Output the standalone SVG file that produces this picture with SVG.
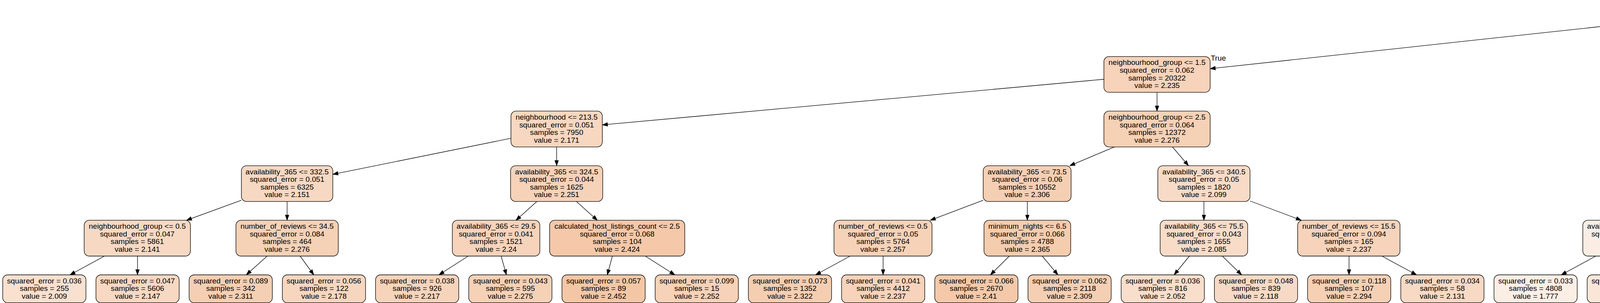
<svg xmlns="http://www.w3.org/2000/svg" width="7602" height="775" viewBox="0 0 7602 775">
<defs>
<style>
.node rect{stroke:#000;stroke-width:1.33}
text{font-family:"Liberation Sans",Arial,Helvetica,sans-serif;font-size:19.25px;text-anchor:middle;fill:#000}
.edges line{stroke:#000;stroke-width:1.33;marker-end:url(#ah)}
</style>
<marker id="ah" markerUnits="userSpaceOnUse" markerWidth="14" markerHeight="10" viewBox="0 0 14 10" refX="13.3" refY="5" orient="auto" overflow="visible"><path d="M0,0.3 L13.3,5 L0,9.7 z" fill="#000" stroke="#000" stroke-width="1"/></marker>
</defs>
<g class="edges" id="edges">
<line x1="4149" y1="62.35" x2="3098" y2="175.7"/>
<line x1="4363" y1="87" x2="4533.2" y2="144.6"/>
<line x1="2826" y1="202.75" x2="1542" y2="319.4"/>
<line x1="2962" y1="236.2" x2="2962" y2="284.2"/>
<line x1="4668.5" y1="236.2" x2="4668.5" y2="284.2"/>
<line x1="4804.5" y1="202.85" x2="6063.5" y2="317.55"/>
<line x1="1308" y1="353.7" x2="852" y2="445.9"/>
<line x1="1425" y1="375.8" x2="1425" y2="423.8"/>
<line x1="2852.9" y1="375.8" x2="2738.6" y2="423.8"/>
<line x1="3001.4" y1="375.8" x2="3042.6" y2="423.8"/>
<line x1="4628.6" y1="375.8" x2="4586.9" y2="423.8"/>
<line x1="4769" y1="372.45" x2="4890.6" y2="423.8"/>
<line x1="6199.5" y1="375.8" x2="6199.5" y2="423.8"/>
<line x1="6335.5" y1="357.3" x2="6782" y2="446.4"/>
<line x1="618" y1="512.2" x2="477.3" y2="563.4"/>
<line x1="735" y1="515.4" x2="735" y2="563.4"/>
<line x1="1374.2" y1="515.4" x2="1320.8" y2="563.4"/>
<line x1="1475.8" y1="515.4" x2="1529.2" y2="563.4"/>
<line x1="2517" y1="512.2" x2="2381.5" y2="563.4"/>
<line x1="2630" y1="515.4" x2="2630" y2="563.4"/>
<line x1="3082" y1="515.4" x2="3082" y2="563.4"/>
<line x1="3200" y1="514" x2="3331.3" y2="563.4"/>
<line x1="4436" y1="510.65" x2="4287" y2="565.8"/>
<line x1="4547" y1="515.4" x2="4547" y2="563.4"/>
<line x1="4999" y1="515.4" x2="4999" y2="563.4"/>
<line x1="5118.4" y1="515.4" x2="5252" y2="566.6"/>
<line x1="6157.7" y1="515.4" x2="6113.8" y2="563.4"/>
<line x1="6240.3" y1="515.4" x2="6283.2" y2="563.4"/>
<line x1="6898" y1="515.4" x2="6898" y2="563.4"/>
<line x1="7014" y1="512.8" x2="7149.7" y2="563.4"/>
<line x1="267.4" y1="655" x2="179.2" y2="703"/>
<line x1="352" y1="655" x2="352" y2="703"/>
<line x1="684" y1="655" x2="630.5" y2="703"/>
<line x1="768.3" y1="655" x2="803.3" y2="703"/>
<line x1="1198.6" y1="655" x2="1123.7" y2="703"/>
<line x1="1282.9" y1="655" x2="1296.4" y2="703"/>
<line x1="1567.7" y1="655" x2="1554.7" y2="703"/>
<line x1="1652" y1="655" x2="1727.5" y2="703"/>
<line x1="2176.3" y1="655" x2="2088" y2="703"/>
<line x1="2260.7" y1="655" x2="2260.7" y2="703"/>
<line x1="2583.9" y1="655" x2="2535.5" y2="703"/>
<line x1="2668.2" y1="655" x2="2708.3" y2="703"/>
<line x1="3044.8" y1="655" x2="3005.8" y2="703"/>
<line x1="3129.1" y1="655" x2="3178.5" y2="703"/>
<line x1="3453.5" y1="655" x2="3453.5" y2="703"/>
<line x1="3537.7" y1="655" x2="3626.4" y2="703"/>
<line x1="4085.2" y1="655" x2="3996.9" y2="703"/>
<line x1="4169.6" y1="655" x2="4169.6" y2="703"/>
<line x1="4498" y1="655" x2="4446.6" y2="703"/>
<line x1="4582.3" y1="655" x2="4619.3" y2="703"/>
<line x1="4958.9" y1="655" x2="4916.8" y2="703"/>
<line x1="5043.2" y1="655" x2="5089.6" y2="703"/>
<line x1="5363" y1="655" x2="5363" y2="703"/>
<line x1="5447.2" y1="655" x2="5535.5" y2="703"/>
<line x1="5990" y1="655" x2="5903.9" y2="703"/>
<line x1="6074.3" y1="655" x2="6076.7" y2="703"/>
<line x1="6321.6" y1="655" x2="6319" y2="703"/>
<line x1="6405.9" y1="655" x2="6491.7" y2="703"/>
<line x1="6861.3" y1="655" x2="6822.9" y2="703"/>
<line x1="6945.7" y1="655" x2="6995.7" y2="703"/>
<line x1="7272" y1="655" x2="7272" y2="703"/>
<line x1="7353.3" y1="655" x2="7437.9" y2="703"/>
<text x="3119" y="155">True</text>
<text x="4517" y="120">False</text>
</g>
<g id="n0" class="node"><rect x="4149" y="5" width="214" height="91.6" rx="13" fill="#f8decb"/><text x="4256" y="26.7">room_type &lt;= 0.5</text><text x="4256" y="46.3">squared_error = 0.093</text><text x="4256" y="65.9">samples = 39107</text><text x="4256" y="85.5">value = 2.054</text></g>
<g id="n1" class="node"><rect x="2826" y="144.6" width="272" height="91.6" rx="13" fill="#f6d3ba"/><text x="2962" y="166.3">neighbourhood_group &lt;= 1.5</text><text x="2962" y="185.9">squared_error = 0.062</text><text x="2962" y="205.5">samples = 20322</text><text x="2962" y="225.1">value = 2.235</text></g>
<g id="n2" class="node"><rect x="4532.5" y="144.6" width="272" height="91.6" rx="13" fill="#fae9dc"/><text x="4668.5" y="166.3">neighbourhood_group &lt;= 1.5</text><text x="4668.5" y="185.9">squared_error = 0.053</text><text x="4668.5" y="205.5">samples = 18785</text><text x="4668.5" y="225.1">value = 1.858</text></g>
<g id="n3" class="node"><rect x="1308" y="284.2" width="234" height="91.6" rx="13" fill="#f7d7c0"/><text x="1425" y="305.9">neighbourhood &lt;= 213.5</text><text x="1425" y="325.5">squared_error = 0.051</text><text x="1425" y="345.1">samples = 7950</text><text x="1425" y="364.7">value = 2.171</text></g>
<g id="n4" class="node"><rect x="2826" y="284.2" width="272" height="91.6" rx="13" fill="#f5d1b6"/><text x="2962" y="305.9">neighbourhood_group &lt;= 2.5</text><text x="2962" y="325.5">squared_error = 0.064</text><text x="2962" y="345.1">samples = 12372</text><text x="2962" y="364.7">value = 2.276</text></g>
<g id="n5" class="node"><rect x="4568" y="284.2" width="201" height="91.6" rx="13" fill="#fbece1"/><text x="4668.5" y="305.9">room_type &lt;= 1.5</text><text x="4668.5" y="325.5">squared_error = 0.04</text><text x="4668.5" y="345.1">samples = 8976</text><text x="4668.5" y="364.7">value = 1.806</text></g>
<g id="n6" class="node"><rect x="6063.5" y="284.2" width="272" height="91.6" rx="13" fill="#fae6d8"/><text x="6199.5" y="305.9">neighbourhood_group &lt;= 2.5</text><text x="6199.5" y="325.5">squared_error = 0.059</text><text x="6199.5" y="345.1">samples = 9809</text><text x="6199.5" y="364.7">value = 1.907</text></g>
<g id="n7" class="node"><rect x="618" y="423.8" width="234" height="91.6" rx="13" fill="#f7d8c2"/><text x="735" y="445.5">availability_365 &lt;= 332.5</text><text x="735" y="465.1">squared_error = 0.051</text><text x="735" y="484.7">samples = 6325</text><text x="735" y="504.3">value = 2.151</text></g>
<g id="n8" class="node"><rect x="1307" y="423.8" width="236" height="91.6" rx="13" fill="#f6d2b9"/><text x="1425" y="445.5">availability_365 &lt;= 324.5</text><text x="1425" y="465.1">squared_error = 0.044</text><text x="1425" y="484.7">samples = 1625</text><text x="1425" y="504.3">value = 2.251</text></g>
<g id="n9" class="node"><rect x="2517" y="423.8" width="225" height="91.6" rx="13" fill="#f5cfb4"/><text x="2629.5" y="445.5">availability_365 &lt;= 73.5</text><text x="2629.5" y="465.1">squared_error = 0.06</text><text x="2629.5" y="484.7">samples = 10552</text><text x="2629.5" y="504.3">value = 2.306</text></g>
<g id="n10" class="node"><rect x="2964" y="423.8" width="236" height="91.6" rx="13" fill="#f8dbc6"/><text x="3082" y="445.5">availability_365 &lt;= 340.5</text><text x="3082" y="465.1">squared_error = 0.05</text><text x="3082" y="484.7">samples = 1820</text><text x="3082" y="504.3">value = 2.099</text></g>
<g id="n11" class="node"><rect x="4436" y="423.8" width="222" height="91.6" rx="13" fill="#fbece0"/><text x="4547" y="445.5">neighbourhood &lt;= 79.0</text><text x="4547" y="465.1">squared_error = 0.038</text><text x="4547" y="484.7">samples = 8588</text><text x="4547" y="504.3">value = 1.814</text></g>
<g id="n12" class="node"><rect x="4826" y="423.8" width="346" height="91.6" rx="13" fill="#fdf7f2"/><text x="4999" y="445.5">calculated_host_listings_count &lt;= 2.5</text><text x="4999" y="465.1">squared_error = 0.057</text><text x="4999" y="484.7">samples = 388</text><text x="4999" y="504.3">value = 1.62</text></g>
<g id="n13" class="node"><rect x="6081.5" y="423.8" width="236" height="91.6" rx="13" fill="#f9e3d3"/><text x="6199.5" y="445.5">availability_365 &lt;= 348.5</text><text x="6199.5" y="465.1">squared_error = 0.058</text><text x="6199.5" y="484.7">samples = 6758</text><text x="6199.5" y="504.3">value = 1.965</text></g>
<g id="n14" class="node"><rect x="6782" y="423.8" width="232" height="91.6" rx="13" fill="#fbeee4"/><text x="6898" y="445.5">minimum_nights &lt;= 95.0</text><text x="6898" y="465.1">squared_error = 0.039</text><text x="6898" y="484.7">samples = 3051</text><text x="6898" y="504.3">value = 1.778</text></g>
<g id="n15" class="node"><rect x="215.5" y="563.4" width="272" height="91.6" rx="13" fill="#f7d9c3"/><text x="351.5" y="585.1">neighbourhood_group &lt;= 0.5</text><text x="351.5" y="604.7">squared_error = 0.047</text><text x="351.5" y="624.3">samples = 5861</text><text x="351.5" y="643.9">value = 2.141</text></g>
<g id="n16" class="node"><rect x="604" y="563.4" width="262" height="91.6" rx="13" fill="#f5d1b6"/><text x="735" y="585.1">number_of_reviews &lt;= 34.5</text><text x="735" y="604.7">squared_error = 0.084</text><text x="735" y="624.3">samples = 464</text><text x="735" y="643.9">value = 2.276</text></g>
<g id="n17" class="node"><rect x="1158" y="563.4" width="224" height="91.6" rx="13" fill="#f6d3ba"/><text x="1270" y="585.1">availability_365 &lt;= 29.5</text><text x="1270" y="604.7">squared_error = 0.041</text><text x="1270" y="624.3">samples = 1521</text><text x="1270" y="643.9">value = 2.24</text></g>
<g id="n18" class="node"><rect x="1407" y="563.4" width="346" height="91.6" rx="13" fill="#f4c8a9"/><text x="1580" y="585.1">calculated_host_listings_count &lt;= 2.5</text><text x="1580" y="604.7">squared_error = 0.068</text><text x="1580" y="624.3">samples = 104</text><text x="1580" y="643.9">value = 2.424</text></g>
<g id="n19" class="node"><rect x="2135" y="563.4" width="251" height="91.6" rx="13" fill="#f6d2b8"/><text x="2260.5" y="585.1">number_of_reviews &lt;= 0.5</text><text x="2260.5" y="604.7">squared_error = 0.05</text><text x="2260.5" y="624.3">samples = 5764</text><text x="2260.5" y="643.9">value = 2.257</text></g>
<g id="n20" class="node"><rect x="2519" y="563.4" width="222" height="91.6" rx="13" fill="#f4ccae"/><text x="2630" y="585.1">minimum_nights &lt;= 6.5</text><text x="2630" y="604.7">squared_error = 0.066</text><text x="2630" y="624.3">samples = 4788</text><text x="2630" y="643.9">value = 2.365</text></g>
<g id="n21" class="node"><rect x="2970" y="563.4" width="224" height="91.6" rx="13" fill="#f8dcc8"/><text x="3082" y="585.1">availability_365 &lt;= 75.5</text><text x="3082" y="604.7">squared_error = 0.043</text><text x="3082" y="624.3">samples = 1655</text><text x="3082" y="643.9">value = 2.085</text></g>
<g id="n22" class="node"><rect x="3322" y="563.4" width="262" height="91.6" rx="13" fill="#f6d3ba"/><text x="3453" y="585.1">number_of_reviews &lt;= 15.5</text><text x="3453" y="604.7">squared_error = 0.094</text><text x="3453" y="624.3">samples = 165</text><text x="3453" y="643.9">value = 2.237</text></g>
<g id="n23" class="node"><rect x="4052" y="563.4" width="235" height="91.6" rx="13" fill="#fbede3"/><text x="4169.5" y="585.1">availability_365 &lt;= 361.5</text><text x="4169.5" y="604.7">squared_error = 0.036</text><text x="4169.5" y="624.3">samples = 5090</text><text x="4169.5" y="643.9">value = 1.784</text></g>
<g id="n24" class="node"><rect x="4411" y="563.4" width="272" height="91.6" rx="13" fill="#fae9dc"/><text x="4547" y="585.1">neighbourhood_group &lt;= 0.5</text><text x="4547" y="604.7">squared_error = 0.038</text><text x="4547" y="624.3">samples = 3498</text><text x="4547" y="643.9">value = 1.858</text></g>
<g id="n25" class="node"><rect x="4882" y="563.4" width="234" height="91.6" rx="13" fill="#fcf0e7"/><text x="4999" y="585.1">neighbourhood &lt;= 202.0</text><text x="4999" y="604.7">squared_error = 0.079</text><text x="4999" y="624.3">samples = 170</text><text x="4999" y="643.9">value = 1.742</text></g>
<g id="n26" class="node"><rect x="5252" y="563.4" width="222" height="91.6" rx="13" fill="#fefcfb"/><text x="5363" y="585.1">minimum_nights &lt;= 3.5</text><text x="5363" y="604.7">squared_error = 0.019</text><text x="5363" y="624.3">samples = 218</text><text x="5363" y="643.9">value = 1.525</text></g>
<g id="n27" class="node"><rect x="5961" y="563.4" width="222" height="91.6" rx="13" fill="#f9e3d4"/><text x="6072" y="585.1">minimum_nights &lt;= 6.5</text><text x="6072" y="604.7">squared_error = 0.052</text><text x="6072" y="624.3">samples = 6239</text><text x="6072" y="643.9">value = 1.953</text></g>
<g id="n28" class="node"><rect x="6207" y="563.4" width="234" height="91.6" rx="13" fill="#f8dbc6"/><text x="6324" y="585.1">neighbourhood &lt;= 123.0</text><text x="6324" y="604.7">squared_error = 0.101</text><text x="6324" y="624.3">samples = 519</text><text x="6324" y="643.9">value = 2.104</text></g>
<g id="n29" class="node"><rect x="6782" y="563.4" width="232" height="91.6" rx="13" fill="#fbeee4"/><text x="6898" y="585.1">minimum_nights &lt;= 14.5</text><text x="6898" y="604.7">squared_error = 0.036</text><text x="6898" y="624.3">samples = 3048</text><text x="6898" y="643.9">value = 1.777</text></g>
<g id="n30" class="node"><rect x="7142" y="563.4" width="261" height="91.6" rx="13" fill="#eda774"/><text x="7272.5" y="585.1">number_of_reviews &lt;= 35.5</text><text x="7272.5" y="604.7">squared_error = 0.928</text><text x="7272.5" y="624.3">samples = 3</text><text x="7272.5" y="643.9">value = 3.0</text></g>
<g id="l0" class="node"><rect x="7" y="703" width="213" height="71.5" rx="13" fill="#f9e0cf"/><text x="113.5" y="724.7">squared_error = 0.036</text><text x="113.5" y="744.3">samples = 255</text><text x="113.5" y="763.9">value = 2.009</text></g>
<g id="l1" class="node"><rect x="245.6" y="703" width="213" height="71.5" rx="13" fill="#f7d8c2"/><text x="352.1" y="724.7">squared_error = 0.047</text><text x="352.1" y="744.3">samples = 5606</text><text x="352.1" y="763.9">value = 2.147</text></g>
<g id="l2" class="node"><rect x="484.2" y="703" width="213" height="71.5" rx="13" fill="#f5cfb3"/><text x="590.7" y="724.7">squared_error = 0.089</text><text x="590.7" y="744.3">samples = 342</text><text x="590.7" y="763.9">value = 2.311</text></g>
<g id="l3" class="node"><rect x="722.8" y="703" width="213" height="71.5" rx="13" fill="#f7d6bf"/><text x="829.3" y="724.7">squared_error = 0.056</text><text x="829.3" y="744.3">samples = 122</text><text x="829.3" y="763.9">value = 2.178</text></g>
<g id="l4" class="node"><rect x="961.4" y="703" width="213" height="71.5" rx="13" fill="#f6d4bc"/><text x="1067.9" y="724.7">squared_error = 0.038</text><text x="1067.9" y="744.3">samples = 926</text><text x="1067.9" y="763.9">value = 2.217</text></g>
<g id="l5" class="node"><rect x="1200" y="703" width="213" height="71.5" rx="13" fill="#f5d1b6"/><text x="1306.5" y="724.7">squared_error = 0.043</text><text x="1306.5" y="744.3">samples = 595</text><text x="1306.5" y="763.9">value = 2.275</text></g>
<g id="l6" class="node"><rect x="1438.6" y="703" width="213" height="71.5" rx="13" fill="#f3c7a6"/><text x="1545.1" y="724.7">squared_error = 0.057</text><text x="1545.1" y="744.3">samples = 89</text><text x="1545.1" y="763.9">value = 2.452</text></g>
<g id="l7" class="node"><rect x="1677.2" y="703" width="213" height="71.5" rx="13" fill="#f6d2b8"/><text x="1783.7" y="724.7">squared_error = 0.099</text><text x="1783.7" y="744.3">samples = 15</text><text x="1783.7" y="763.9">value = 2.252</text></g>
<g id="l8" class="node"><rect x="1915.8" y="703" width="213" height="71.5" rx="13" fill="#f5ceb2"/><text x="2022.3" y="724.7">squared_error = 0.073</text><text x="2022.3" y="744.3">samples = 1352</text><text x="2022.3" y="763.9">value = 2.322</text></g>
<g id="l9" class="node"><rect x="2154.4" y="703" width="213" height="71.5" rx="13" fill="#f6d3ba"/><text x="2260.9" y="724.7">squared_error = 0.041</text><text x="2260.9" y="744.3">samples = 4412</text><text x="2260.9" y="763.9">value = 2.237</text></g>
<g id="l10" class="node"><rect x="2393" y="703" width="213" height="71.5" rx="13" fill="#f4c9aa"/><text x="2499.5" y="724.7">squared_error = 0.066</text><text x="2499.5" y="744.3">samples = 2670</text><text x="2499.5" y="763.9">value = 2.41</text></g>
<g id="l11" class="node"><rect x="2631.6" y="703" width="213" height="71.5" rx="13" fill="#f5cfb3"/><text x="2738.1" y="724.7">squared_error = 0.062</text><text x="2738.1" y="744.3">samples = 2118</text><text x="2738.1" y="763.9">value = 2.309</text></g>
<g id="l12" class="node"><rect x="2870.2" y="703" width="213" height="71.5" rx="13" fill="#f8decb"/><text x="2976.7" y="724.7">squared_error = 0.036</text><text x="2976.7" y="744.3">samples = 816</text><text x="2976.7" y="763.9">value = 2.052</text></g>
<g id="l13" class="node"><rect x="3108.8" y="703" width="213" height="71.5" rx="13" fill="#f7dac5"/><text x="3215.3" y="724.7">squared_error = 0.048</text><text x="3215.3" y="744.3">samples = 839</text><text x="3215.3" y="763.9">value = 2.118</text></g>
<g id="l14" class="node"><rect x="3347.4" y="703" width="213" height="71.5" rx="13" fill="#f5d0b5"/><text x="3453.9" y="724.7">squared_error = 0.118</text><text x="3453.9" y="744.3">samples = 107</text><text x="3453.9" y="763.9">value = 2.294</text></g>
<g id="l15" class="node"><rect x="3586" y="703" width="213" height="71.5" rx="13" fill="#f7d9c4"/><text x="3692.5" y="724.7">squared_error = 0.034</text><text x="3692.5" y="744.3">samples = 58</text><text x="3692.5" y="763.9">value = 2.131</text></g>
<g id="l16" class="node"><rect x="3824.6" y="703" width="213" height="71.5" rx="13" fill="#fbeee4"/><text x="3931.1" y="724.7">squared_error = 0.033</text><text x="3931.1" y="744.3">samples = 4808</text><text x="3931.1" y="763.9">value = 1.777</text></g>
<g id="l17" class="node"><rect x="4063.2" y="703" width="213" height="71.5" rx="13" fill="#fae6d7"/><text x="4169.7" y="724.7">squared_error = 0.064</text><text x="4169.7" y="744.3">samples = 282</text><text x="4169.7" y="763.9">value = 1.913</text></g>
<g id="l18" class="node"><rect x="4301.8" y="703" width="213" height="71.5" rx="13" fill="#fcf0e7"/><text x="4408.3" y="724.7">squared_error = 0.042</text><text x="4408.3" y="744.3">samples = 341</text><text x="4408.3" y="763.9">value = 1.739</text></g>
<g id="l19" class="node"><rect x="4540.4" y="703" width="213" height="71.5" rx="13" fill="#fae8db"/><text x="4646.9" y="724.7">squared_error = 0.036</text><text x="4646.9" y="744.3">samples = 3157</text><text x="4646.9" y="763.9">value = 1.87</text></g>
<g id="l20" class="node"><rect x="4779" y="703" width="213" height="71.5" rx="13" fill="#fcf2ea"/><text x="4885.5" y="724.7">squared_error = 0.075</text><text x="4885.5" y="744.3">samples = 144</text><text x="4885.5" y="763.9">value = 1.709</text></g>
<g id="l21" class="node"><rect x="5017.6" y="703" width="213" height="71.5" rx="13" fill="#fae5d6"/><text x="5124.1" y="724.7">squared_error = 0.065</text><text x="5124.1" y="744.3">samples = 26</text><text x="5124.1" y="763.9">value = 1.926</text></g>
<g id="l22" class="node"><rect x="5256.2" y="703" width="213" height="71.5" rx="13" fill="#fefaf8"/><text x="5362.7" y="724.7">squared_error = 0.024</text><text x="5362.7" y="744.3">samples = 125</text><text x="5362.7" y="763.9">value = 1.56</text></g>
<g id="l23" class="node"><rect x="5494.8" y="703" width="213" height="71.5" rx="13" fill="#ffffff"/><text x="5601.3" y="724.7">squared_error = 0.009</text><text x="5601.3" y="744.3">samples = 93</text><text x="5601.3" y="763.9">value = 1.478</text></g>
<g id="l24" class="node"><rect x="5733.4" y="703" width="213" height="71.5" rx="13" fill="#f9e3d2"/><text x="5839.9" y="724.7">squared_error = 0.049</text><text x="5839.9" y="744.3">samples = 5324</text><text x="5839.9" y="763.9">value = 1.969</text></g>
<g id="l25" class="node"><rect x="5972" y="703" width="213" height="71.5" rx="13" fill="#fae9dc"/><text x="6078.5" y="724.7">squared_error = 0.063</text><text x="6078.5" y="744.3">samples = 915</text><text x="6078.5" y="763.9">value = 1.861</text></g>
<g id="l26" class="node"><rect x="6210.6" y="703" width="213" height="71.5" rx="13" fill="#f8dfcd"/><text x="6317.1" y="724.7">squared_error = 0.067</text><text x="6317.1" y="744.3">samples = 330</text><text x="6317.1" y="763.9">value = 2.022</text></g>
<g id="l27" class="node"><rect x="6449.2" y="703" width="213" height="71.5" rx="13" fill="#f6d2b9"/><text x="6555.7" y="724.7">squared_error = 0.128</text><text x="6555.7" y="744.3">samples = 189</text><text x="6555.7" y="763.9">value = 2.247</text></g>
<g id="l28" class="node"><rect x="6687.8" y="703" width="213" height="71.5" rx="13" fill="#fbede3"/><text x="6794.3" y="724.7">squared_error = 0.036</text><text x="6794.3" y="744.3">samples = 2762</text><text x="6794.3" y="763.9">value = 1.79</text></g>
<g id="l29" class="node"><rect x="6926.4" y="703" width="213" height="71.5" rx="13" fill="#fdf5ef"/><text x="7032.9" y="724.7">squared_error = 0.021</text><text x="7032.9" y="744.3">samples = 286</text><text x="7032.9" y="763.9">value = 1.651</text></g>
<g id="l30" class="node"><rect x="7165" y="703" width="213" height="71.5" rx="13" fill="#e58139"/><text x="7271.5" y="724.7">squared_error = 0.122</text><text x="7271.5" y="744.3">samples = 2</text><text x="7271.5" y="763.9">value = 3.651</text></g>
<g id="l31" class="node"><rect x="7406" y="703" width="190" height="71.5" rx="13" fill="#fcf2eb"/><text x="7501" y="724.7">squared_error = 0.0</text><text x="7501" y="744.3">samples = 1</text><text x="7501" y="763.9">value = 1.699</text></g>
</svg>
